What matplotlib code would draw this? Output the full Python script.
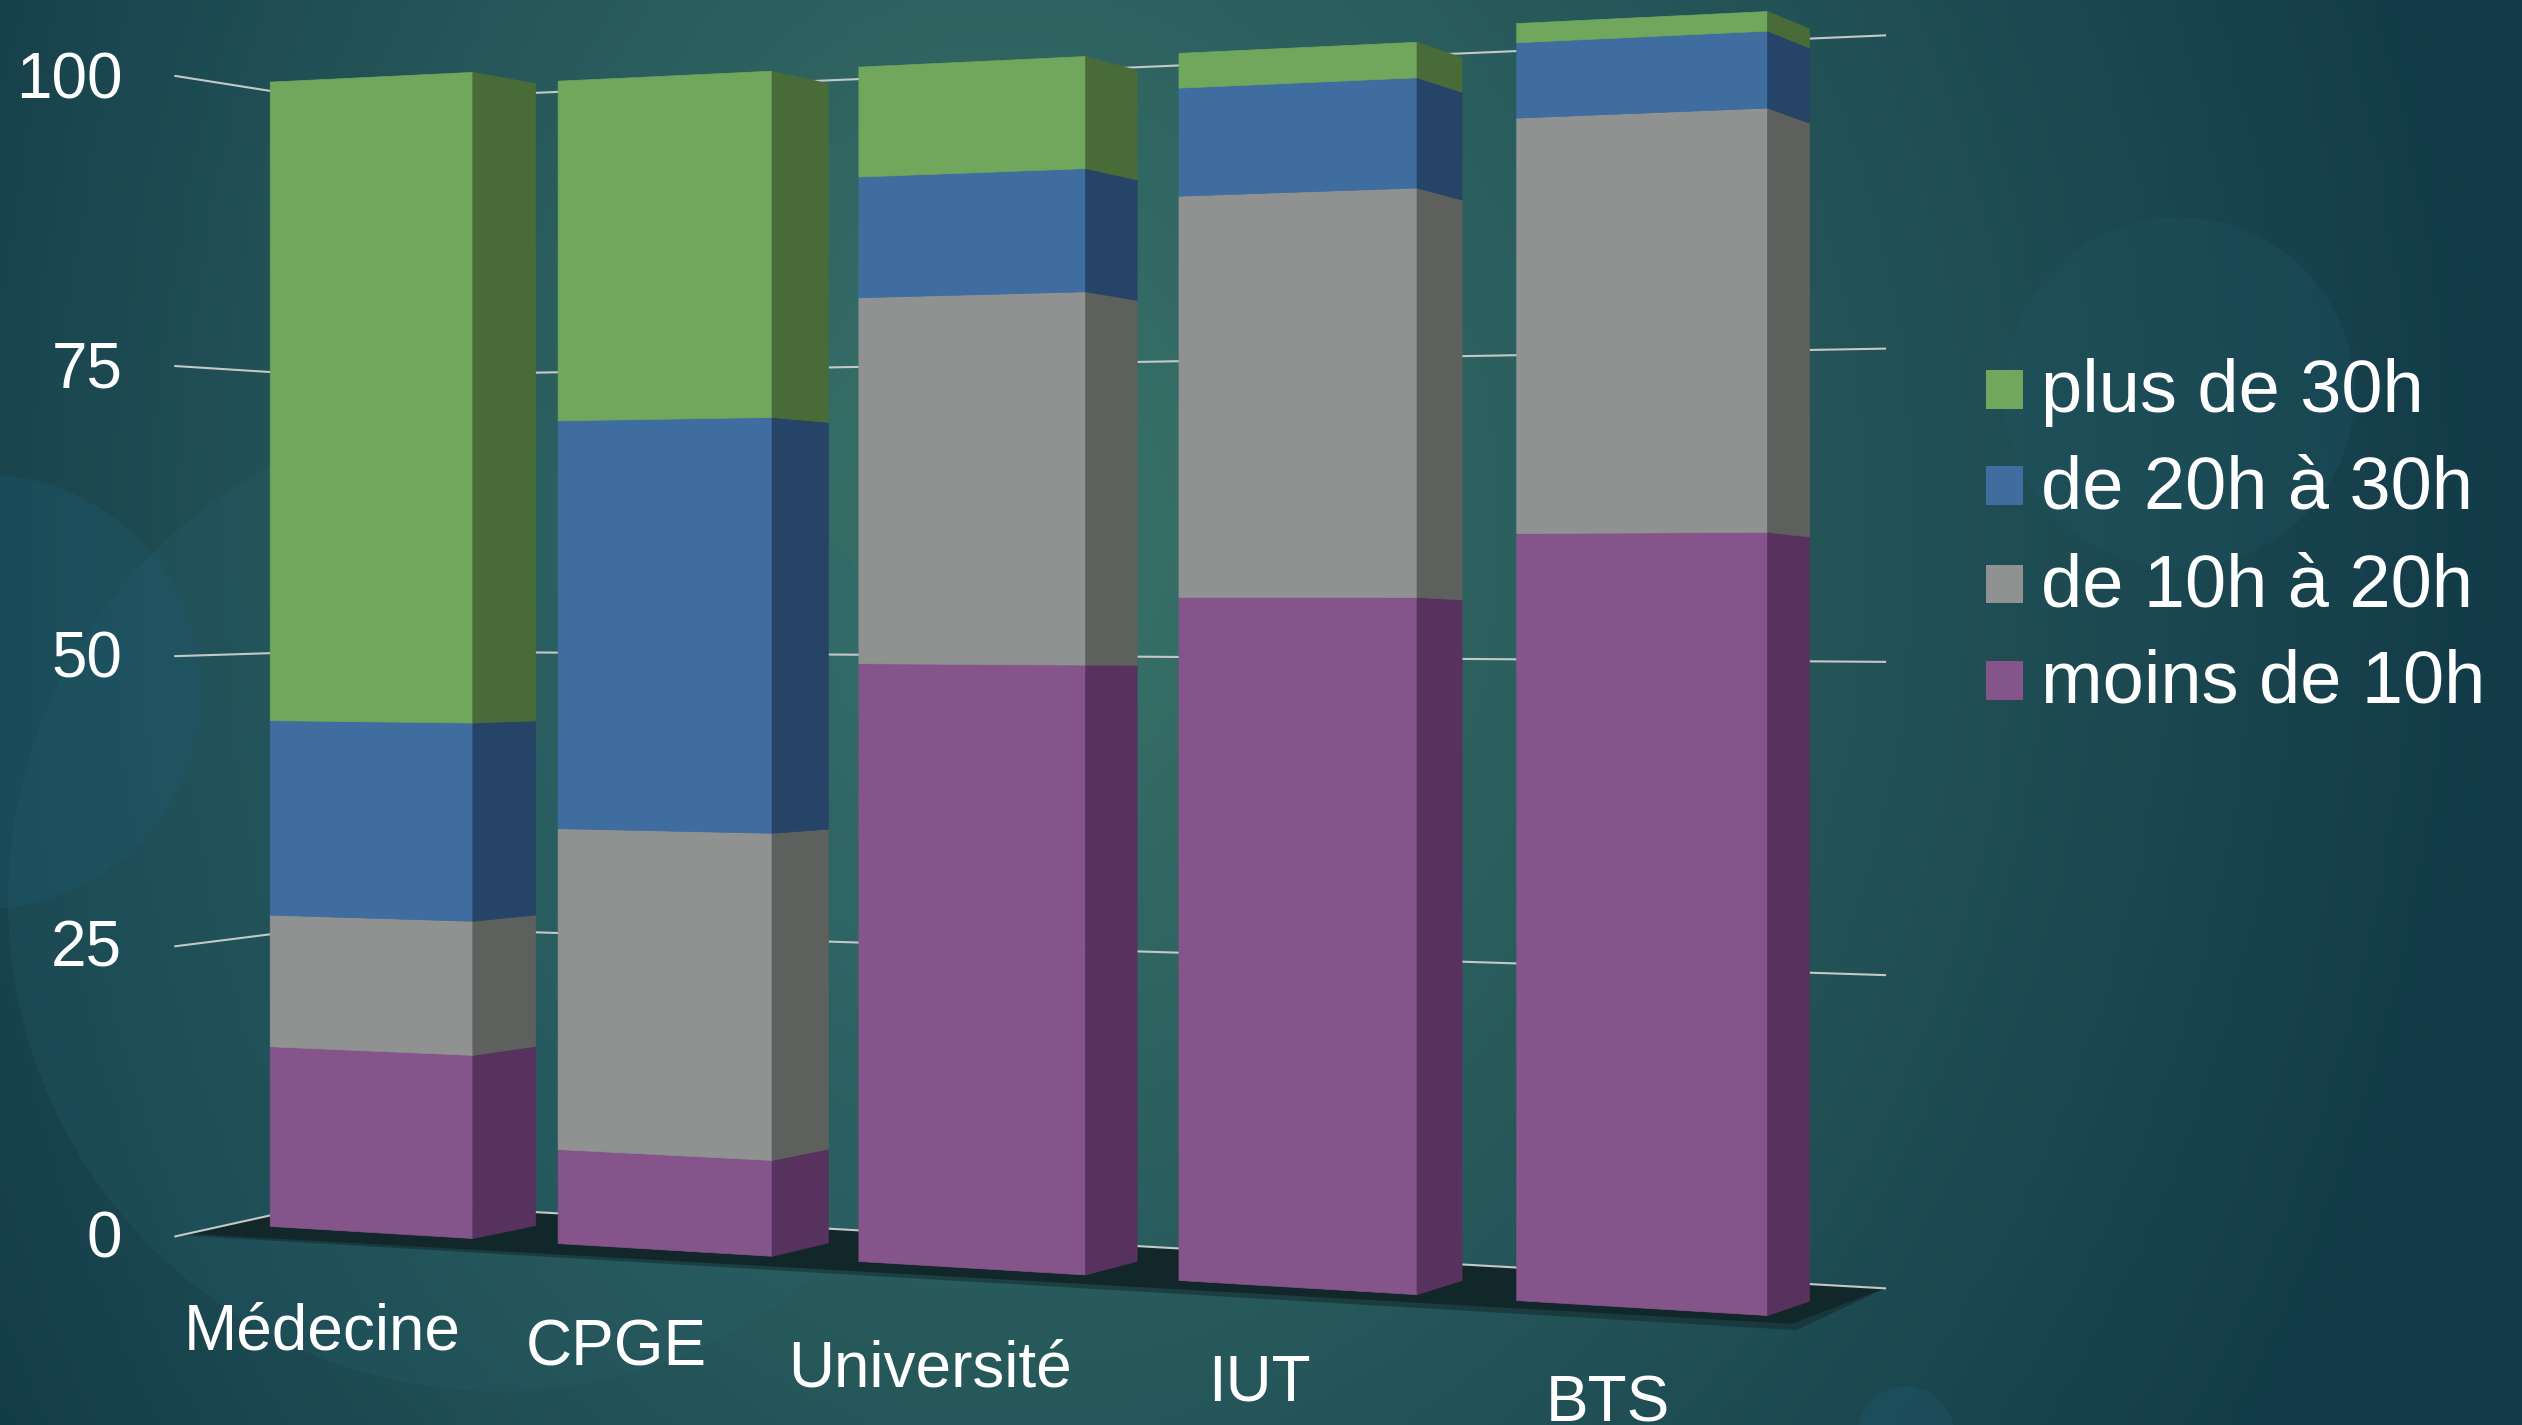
import numpy as np
import matplotlib
matplotlib.use("Agg")
import matplotlib.pyplot as plt
from matplotlib.colors import to_rgb
from matplotlib.patches import Circle, Polygon, Rectangle

plt.rcParams['font.family'] = ['Liberation Sans', 'DejaVu Sans']

categories = ["Médecine", "CPGE", "Université", "IUT", "BTS"]
moins_10h = [15.7, 8, 49.5, 55, 60]
de_10h_20h = [11.5, 27.3, 30.3, 32.3, 32.5]
de_20h_30h = [17, 34.7, 10, 8.7, 5.9]
plus_30h = [55.8, 28.9, 9.1, 2.8, 1.5]
series_names = ["moins de 10h", "de 10h à 20h", "de 20h à 30h", "plus de 30h"]
y_ticks = [0, 25, 50, 75, 100]

# layout of the perspective view, in 1568 wide image units
W, H = 1568, 1425 * 1568 / 2522
FRONT_LEFT = [168, 347, 534, 733, 943]
FRONT_RIGHT = [294, 480, 675, 881, 1099]
BACK_RIGHT = [333, 515, 707, 909, 1125]
TICK_Y = [782, 601, 421, 241, 61]
LABEL_POS = [(114, 839), (327, 849), (490, 862), (751, 871), (961, 884)]
LEGEND_Y = [411, 351, 290, 230]

front_colors = ["#85548B", "#909291", "#3F6D9F", "#70A75C"]
side_colors = ["#58325F", "#5E605D", "#264467", "#486B38"]


def front_y(x, v):
    base = 770 + 0.0595 * (x - 294)
    top = 45 - 0.048 * (x - 294)
    return base + (top - base) * v / 100


def back_y(x, v):
    base = 762 + 0.0593 * (x - 333)
    top = 52 - 0.044 * (x - 333)
    return base + (top - base) * v / 100


fig = plt.figure(figsize=(25.22, 14.25), dpi=100)
ax = fig.add_axes([0, 0, 1, 1])
ax.axis("off")

# background
xx, yy = np.meshgrid(np.linspace(0, W, 400), np.linspace(0, H, 240))
x_scale = np.where(xx < 620, 760, 950)
r = np.clip(np.sqrt(((xx - 620) / x_scale) ** 2 + ((yy - 330) / 1100) ** 2), 0, 1)
light, dark = np.array(to_rgb("#3A746B")), np.array(to_rgb("#123A48"))
bg = light + (dark - light) * r[..., None]
ax.imshow(bg, extent=[0, W, H, 0], aspect="auto", zorder=0)
ax.set_xlim(0, W)
ax.set_ylim(H, 0)

for cx, cy, rad, col, a in [(310, 560, 305, "#2A6672", 0.20), (-10, 430, 135, "#1F5A70", 0.32),
                            (1355, 244, 109, "#1F5A68", 0.25), (1185, 892, 30, "#1F5568", 0.45)]:
    ax.add_patch(Circle((cx, cy), rad, color=col, alpha=a, lw=0, zorder=1))

# floor
ax.add_patch(Polygon([(112, 768), (209, 747), (1172, 801), (1117, 827)],
                     color="#14292C", alpha=0.55, lw=0, zorder=2))
ax.add_patch(Polygon([(116, 767), (209, 747), (1172, 801), (1114, 823)],
                     color="#12272A", lw=0, zorder=2))

# gridlines on the side wall and the back wall
for v in y_ticks:
    y0 = 768.7 - 7.215 * v
    y1 = 746.6 - 6.836 * v
    y2 = 801 - 7.79 * v
    ax.plot([109, 209, 1172], [y0, y1, y2], color="#C4C8C8", lw=1.5, zorder=3)

# bars
stack = np.array([moins_10h, de_10h_20h, de_20h_30h, plus_30h])
for i in range(len(categories)):
    xl, xr, xb = FRONT_LEFT[i], FRONT_RIGHT[i], BACK_RIGHT[i]
    bottom = 0
    for s in range(len(series_names)):
        top = bottom + stack[s, i]
        ax.add_patch(Polygon([(xl, front_y(xl, bottom)), (xr, front_y(xr, bottom)),
                              (xr, front_y(xr, top)), (xl, front_y(xl, top))],
                             color=front_colors[s], lw=0.5, zorder=4))
        ax.add_patch(Polygon([(xr, front_y(xr, bottom)), (xb, back_y(xb, bottom)),
                              (xb, back_y(xb, top)), (xr, front_y(xr, top))],
                             color=side_colors[s], lw=0.5, zorder=4))
        bottom = top

for v, y in zip(y_ticks, TICK_Y):
    ax.text(76, y, str(v), color="white", fontsize=46, ha="right", va="baseline", zorder=5)

for name, (x, y) in zip(categories, LABEL_POS):
    ax.text(x, y, name, color="white", fontsize=46, ha="left", va="baseline", zorder=5)

# legend
for s, y in enumerate(LEGEND_Y):
    ax.add_patch(Rectangle((1235, y), 23, 24, color=front_colors[s], lw=0, zorder=5))
    ax.text(1269, y + 26, series_names[s], color="white", fontsize=53.3,
            ha="left", va="baseline", zorder=5)

fig.savefig("out.png", dpi=100)
